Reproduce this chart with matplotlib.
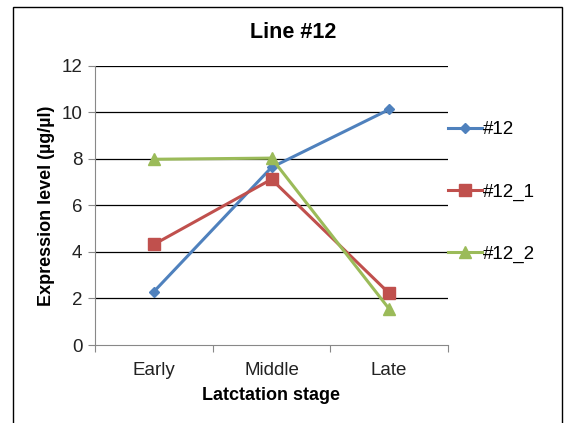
import matplotlib
matplotlib.use("Agg")
import matplotlib.pyplot as plt
from matplotlib.patches import Rectangle

plt.rcParams['font.family'] = ['Liberation Sans', 'DejaVu Sans']

categories = ["Early", "Middle", "Late"]
series_names = ["#12", "#12_1", "#12_2"]
s12 = [2.29, 7.63, 10.12]
s12_1 = [4.32, 7.12, 2.22]
s12_2 = [7.98, 8.03, 1.55]
yticks = [0, 2, 4, 6, 8, 10, 12]

colors = ["#4F81BD", "#C0504D", "#9BBB59"]
markers = ["D", "s", "^"]
msizes = [5, 8, 8]

fig = plt.figure(figsize=(5.72, 4.23), dpi=100)
ax = fig.add_axes([95/572, 1-345/423, (448-95)/572, (345-65.7)/423])

x = [0.5, 1.5, 2.5]
for vals, name, c, m, ms in zip([s12, s12_1, s12_2], series_names, colors, markers, msizes):
    ax.plot(x, vals, color=c, marker=m, markersize=ms, linewidth=2.2, label=name,
            markeredgecolor=c, clip_on=False)

ax.set_xlim(0, 3)
ax.set_ylim(0, 12)
ax.set_yticks(yticks)
ax.set_yticklabels([str(v) for v in yticks], fontsize=13.5, color='#222222')
ax.set_xticks([0, 1, 2, 3])
ax.set_xticklabels([])
ax.set_xticks(x, minor=True)
ax.set_xticklabels(categories, minor=True, fontsize=13.5, color='#222222')
ax.tick_params(axis='x', which='minor', length=0, pad=12)
ax.tick_params(axis='x', which='major', length=5, color='#888888', direction='out')
ax.tick_params(axis='y', length=5, color='#888888', direction='out', pad=4)

for v in yticks[1:]:
    ax.axhline(v, color='black', linewidth=0.9, zorder=0)

ax.spines['top'].set_visible(False)
ax.spines['right'].set_visible(False)
ax.spines['left'].set_color('#888888')
ax.spines['bottom'].set_color('#888888')

fig.text(293/572, 1-32/423, "Line #12", fontsize=15.5, fontweight='bold', ha='center', va='center')
ax.set_xlabel("Latctation stage", fontsize=13, fontweight='bold', labelpad=6)
ax.set_ylabel("Expression level (µg/µl)", fontsize=13, fontweight='bold', labelpad=5)

leg = ax.legend(loc='center left', bbox_to_anchor=(448/572, 1-192/423), bbox_transform=fig.transFigure,
                frameon=False, fontsize=13.5, labelspacing=2.4, handlelength=1.8,
                handletextpad=0.05, borderaxespad=0, borderpad=0)

fig.patches.append(Rectangle((13/572, -0.05), (562-13)/572, 1.05 - 7/423, transform=fig.transFigure,
                             fill=False, edgecolor='black', linewidth=1.0))

fig.savefig("out.png", dpi=100)
